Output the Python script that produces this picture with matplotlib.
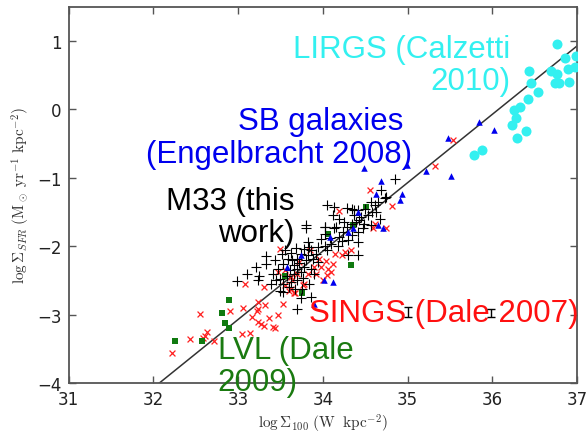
import matplotlib
matplotlib.use("Agg")
import matplotlib.pyplot as plt
import numpy as np

plt.rcParams['mathtext.fontset'] = 'cm'

# ---------------- data ----------------
m33_x = [34.85, 34.69, 34.73, 34.57, 34.65, 34.53, 34.63, 34.67, 34.41, 34.34, 34.28, 34.13,
         34.37, 34.43, 34.49, 34.57, 34.02, 33.80, 34.13, 34.24, 34.34, 34.19, 34.30, 34.41,
         34.10, 34.02, 33.94, 33.84, 33.78, 33.86, 33.92, 33.82, 33.74, 33.70, 33.59, 33.33,
         33.33, 33.53, 33.66, 33.78, 33.74, 33.61, 33.11, 33.25, 32.99, 33.49, 33.53, 33.62,
         33.70, 33.49, 33.53, 33.74, 33.86, 33.69, 34.12, 34.34, 34.02, 33.98, 33.94, 33.86,
         33.82, 34.30, 34.41, 34.75, 34.61, 34.05, 34.37, 34.45, 34.39, 34.28, 34.16, 34.47,
         34.41, 33.21, 33.23, 33.41, 33.47, 33.39, 33.45, 33.55, 33.62, 33.68, 33.72, 33.80,
         33.88, 33.66, 33.58, 33.76, 33.70, 33.64, 33.90, 33.44, 33.52, 33.60, 33.67, 33.75,
         33.84, 34.05, 34.18, 34.22, 34.08, 34.25, 34.19, 34.50, 34.58, 33.80, 34.02]
m33_y = [-1.02, -1.18, -1.30, -1.35, -1.35, -1.55, -1.50, -1.60, -1.47, -1.45, -1.44, -1.42,
         -1.55, -1.62, -1.67, -1.69, -1.72, -1.73, -1.74, -1.79, -1.84, -1.86, -1.91, -1.94,
         -1.96, -1.99, -2.01, -2.01, -2.04, -2.06, -2.12, -2.13, -2.11, -2.18, -2.18, -2.14,
         -2.26, -2.26, -2.28, -2.30, -2.38, -2.35, -2.40, -2.43, -2.51, -2.48, -2.55, -2.52,
         -2.50, -2.65, -2.67, -2.76, -2.74, -2.92, -1.55, -1.67, -1.82, -1.89, -2.23, -2.33,
         -1.94, -2.13, -2.13, -1.28, -1.40, -1.39, -1.47, -1.57, -1.64, -1.72, -1.72, -1.74,
         -1.79, -2.30, -2.50, -2.40, -2.33, -2.55, -2.50, -2.05, -2.10, -2.02, -2.24, -2.20,
         -2.18, -2.40, -2.44, -2.46, -2.33, -2.20, -2.40, -2.20, -2.12, -2.60, -2.62, -2.62,
         -2.55, -2.05, -2.00, -1.93, -1.88, -1.65, -1.60, -1.45, -1.50, -1.69, -1.72]

sings_x = [33.08, 32.55, 32.91, 33.06, 33.16, 33.22, 33.24, 32.63, 32.61, 32.43, 32.58, 32.71,
           33.04, 33.14, 32.22, 33.23, 33.32, 33.24, 33.27, 33.30, 33.41, 33.47, 33.53, 33.66,
           33.55, 33.37, 33.43, 33.62, 33.49, 33.31, 33.64, 33.60, 33.92, 34.00, 33.78, 33.72,
           34.55, 34.81, 34.75, 34.19, 34.22, 34.12, 34.06, 33.90, 33.82, 33.62, 33.47, 33.76,
           33.67, 33.96, 34.04, 34.14, 34.26, 34.33, 34.61, 34.59, 35.53, 35.32, 33.85, 34.05,
           33.98, 34.10, 33.70, 33.55]
sings_y = [-2.55, -2.99, -2.95, -2.90, -3.04, -2.95, -3.10, -3.25, -3.31, -3.35, -3.34, -3.39,
           -3.28, -3.27, -3.56, -2.81, -2.86, -2.91, -3.13, -3.17, -3.18, -3.00, -2.84, -2.69,
           -2.57, -3.05, -3.20, -2.62, -2.04, -2.60, -2.50, -2.65, -2.40, -2.50, -2.55, -2.23,
           -1.18, -1.41, -1.74, -1.48, -2.13, -2.26, -2.33, -2.30, -2.40, -2.45, -2.38, -2.57,
           -2.69, -2.18, -2.21, -2.11, -2.08, -2.05, -1.68, -1.74, -0.44, -0.82, -2.05, -2.42,
           -2.30, -2.38, -2.40, -2.35]

sb_x = [35.84, 36.02, 35.47, 35.22, 35.51, 34.99, 34.93, 34.49, 34.68, 34.63, 34.91, 34.41,
        34.65, 34.35, 34.30, 34.08, 33.74, 33.58, 34.01, 34.12, 33.90, 34.71]
sb_y = [-0.18, -0.30, -0.41, -0.90, -0.98, -0.81, -1.23, -0.86, -1.05, -1.24, -1.33, -1.50,
        -1.69, -1.74, -1.79, -1.86, -2.13, -2.30, -2.49, -2.52, -2.84, -1.74]

lvl_x = [32.89, 32.81, 32.84, 32.89, 32.26, 32.57, 33.75, 34.51, 34.36, 34.06, 34.33, 33.55]
lvl_y = [-2.79, -2.97, -3.12, -3.20, -3.39, -3.39, -2.68, -1.42, -1.69, -1.82, -2.27, -2.43]

lirg_x = [36.76, 36.43, 36.69, 36.76, 36.86, 36.89, 36.74, 36.78, 36.90, 36.45, 36.54, 36.42,
          36.33, 36.26, 36.28, 36.23, 36.40, 36.29, 35.88, 35.78, 36.97, 36.98]
lirg_y = [0.96, 0.56, 0.56, 0.52, 0.75, 0.59, 0.38, 0.39, 0.40, 0.39, 0.26, 0.15,
          0.04, -0.01, -0.13, -0.22, -0.32, -0.42, -0.60, -0.67, 0.62, 0.78]

err_x = [35.00, 35.98]
err_y = [-2.96, -2.97]
err_dy = [0.07, 0.06]

fit_x = [31.0, 37.0]
fit_offset = 36.07  # y = x - offset

# ---------------- figure ----------------
fig = plt.figure(figsize=(5.86, 4.35), dpi=100)
ax = fig.add_axes([0.117, 0.117, 0.868, 0.865])

ax.plot(fit_x, [v - fit_offset for v in fit_x], color='#333333', lw=1.1, zorder=2)

ax.scatter(lirg_x, lirg_y, s=52, color='#33f0f0', marker='o', zorder=3, linewidths=0)
ax.scatter(sings_x, sings_y, s=18, color='#ff2020', marker='x', linewidths=0.9, zorder=3)
ax.scatter(lvl_x, lvl_y, s=22, color='#107a10', marker='s', linewidths=0, zorder=4)
ax.scatter(m33_x, m33_y, s=45, color='black', marker='+', linewidths=0.8, zorder=4)
ax.scatter(sb_x, sb_y, s=22, color='#0000ee', marker='^', linewidths=0, zorder=5)

ax.errorbar(err_x, err_y, yerr=err_dy, fmt='none', ecolor='black', elinewidth=1,
            capsize=3, capthick=1, zorder=8)

ax.set_xlim(31, 37)
ax.set_ylim(-4, 1.5)
ax.set_xticks([31, 32, 33, 34, 35, 36, 37])
ax.set_yticks([-4, -3, -2, -1, 0, 1])
ax.set_yticklabels(['\u22124', '\u22123', '\u22122', '\u22121', '0', '1'])

for sp in ax.spines.values():
    sp.set_color('#555555')
    sp.set_linewidth(1.3)
ax.tick_params(direction='in', top=True, right=True, length=5, width=1,
               color='#555555', labelsize=12, labelcolor='#222222', pad=5)

ax.set_xlabel(r'$\log\Sigma_{100}\;(\mathrm{W\ \ kpc^{-2}})$', fontsize=11, color='#333333',
              labelpad=3)
ax.set_ylabel(r'$\log\Sigma_{SFR}\;(\mathrm{M_\odot\ yr^{-1}\ kpc^{-2}})$', fontsize=11,
              color='#333333', labelpad=4)

tk = dict(fontsize=22.5, family='Liberation Sans', clip_on=False, zorder=7)
ax.text(36.21, 0.65, 'LIRGS (Calzetti\n2010)', color='#33f0f0', ha='right', va='center',
        multialignment='right', linespacing=1.1, **tk)
ax.text(35.05, -0.41, 'SB galaxies \n(Engelbracht 2008)', color='#0000ee', ha='right',
        va='center', multialignment='right', linespacing=1.1, **tk)
ax.text(33.67, -1.57, 'M33 (this\nwork)', color='black', ha='right', va='center',
        multialignment='right', linespacing=1.1, **tk)
ax.text(37.02, -2.98, 'SINGS (Dale 2007)', color='#ff1010', ha='right', va='center', **tk)
ax.text(32.76, -3.75, 'LVL (Dale\n2009)', color='#1a7a10', ha='left', va='center',
        multialignment='left', linespacing=1.1, **tk)

fig.savefig('out.png', dpi=100)
